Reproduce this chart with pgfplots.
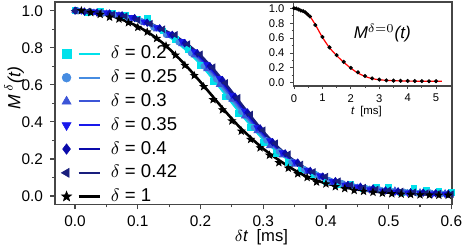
\documentclass[border=0pt]{standalone}
\usepackage{fontspec}
\setmainfont{Liberation Sans}
\usepackage{pgfplots}
\pgfplotsset{compat=1.18}
\usetikzlibrary{plotmarks}

\definecolor{c02}{RGB}{0,225,235}
\definecolor{c025}{RGB}{70,140,225}
\definecolor{c03}{RGB}{60,85,215}
\definecolor{c035}{RGB}{25,25,235}
\definecolor{c04}{RGB}{10,10,170}
\definecolor{c042}{RGB}{25,30,125}
\definecolor{framec}{RGB}{70,70,70}

\pgfdeclareplotmark{fstar}{%
 \pgfpathmoveto{\pgfpointpolar{90}{\pgfplotmarksize}}%
 \pgfpathlineto{\pgfpointpolar{126}{0.42\pgfplotmarksize}}%
 \pgfpathlineto{\pgfpointpolar{162}{\pgfplotmarksize}}%
 \pgfpathlineto{\pgfpointpolar{198}{0.42\pgfplotmarksize}}%
 \pgfpathlineto{\pgfpointpolar{234}{\pgfplotmarksize}}%
 \pgfpathlineto{\pgfpointpolar{270}{0.42\pgfplotmarksize}}%
 \pgfpathlineto{\pgfpointpolar{306}{\pgfplotmarksize}}%
 \pgfpathlineto{\pgfpointpolar{342}{0.42\pgfplotmarksize}}%
 \pgfpathlineto{\pgfpointpolar{18}{\pgfplotmarksize}}%
 \pgfpathlineto{\pgfpointpolar{54}{0.42\pgfplotmarksize}}%
 \pgfpathclose\pgfusepathqfillstroke}

\begin{document}
\begin{tikzpicture}
\begin{axis}[
  name=main,
  scale only axis, width=198.5pt, height=101.25pt,
  xmin=-0.032, xmax=0.601, ymin=-0.046, ymax=1.047,
  xtick={0,0.1,...,0.6}, ytick={0,0.2,...,1.0},
  minor x tick num=1, minor y tick num=1,
  tick pos=left, tick align=outside,
  major tick length=2.5pt, minor tick length=1.5pt,
  axis line style={framec, line width=0.8pt},
  every tick/.style={framec, line width=0.6pt},
  /pgf/number format/assume math mode=true,
  xticklabel style={/pgf/number format/fixed, /pgf/number format/fixed zerofill, /pgf/number format/precision=1, inner sep=0.5pt, yshift=-2.6pt},
  yticklabel style={/pgf/number format/fixed, /pgf/number format/fixed zerofill, /pgf/number format/precision=1},
  ticklabel style={font=\fontsize{7.7}{8}\selectfont},
  xlabel={$\delta$\textit{t}\enspace[ms]},
  xlabel style={at={(rel axis cs:0.52,-0.164)}, anchor=center, inner sep=0pt, font=\fontsize{8.3}{10}\selectfont},
  ylabel={\textit{M}\,$^{\delta}$\textit{(t)}},
  ylabel style={at={(rel axis cs:-0.103,0.575)}, anchor=center, font=\fontsize{8.8}{10}\selectfont},
  legend image code/.code={%
    \draw[#1,mark=none] (8.5pt,0pt) -- (19pt,0pt);
    \draw[#1,only marks] plot coordinates {(2.5pt,0pt)};},
  legend style={draw=none, fill=none, at={(rel axis cs:0.015,0.795)}, anchor=north west,
    font=\fontsize{9.3}{10}\selectfont, row sep=1.9pt, inner sep=0pt,
    nodes={inner sep=1pt},
    /tikz/every odd column/.style={column sep=4pt}},
  legend cell align=left,
]
% ---- data points ----
\addplot[only marks, mark=square*, c02, mark size=1.4pt, forget plot] coordinates {
(0.0,1.0) (0.02,0.99) (0.04,0.995) (0.06,0.985) (0.08,0.975) (0.10,0.955) (0.115,0.96)
(0.14,0.89) (0.16,0.845) (0.18,0.79) (0.20,0.705) (0.22,0.62) (0.24,0.535) (0.26,0.445)
(0.28,0.37) (0.30,0.29) (0.32,0.23) (0.34,0.18) (0.36,0.14) (0.38,0.115) (0.40,0.075)
(0.42,0.06) (0.44,0.065) (0.46,0.04) (0.48,0.05) (0.50,0.045) (0.52,0.02) (0.54,0.04)
(0.56,0.03) (0.58,0.025) (0.60,0.02)};
\addplot[only marks, mark=*, c025, mark size=1.4pt, forget plot] coordinates {
(0.005,1.0) (0.025,0.995) (0.045,0.985) (0.065,0.975) (0.085,0.96) (0.105,0.945) (0.125,0.91)
(0.145,0.87) (0.165,0.83) (0.185,0.77) (0.205,0.7) (0.225,0.63) (0.245,0.535) (0.265,0.455)
(0.285,0.37) (0.305,0.3) (0.325,0.24) (0.345,0.185) (0.365,0.145) (0.385,0.115) (0.405,0.085)
(0.425,0.07) (0.445,0.05) (0.465,0.04) (0.485,0.035) (0.505,0.025) (0.525,0.022) (0.545,0.015)
(0.565,0.02) (0.585,0.012)};
\addplot[only marks, mark=triangle*, c03, mark size=1.7pt, forget plot] coordinates {
(0.0,1.0) (0.03,0.99) (0.05,0.985) (0.07,0.975) (0.09,0.955) (0.11,0.935) (0.13,0.9)
(0.15,0.865) (0.17,0.82) (0.19,0.76) (0.21,0.685) (0.23,0.6) (0.25,0.52) (0.27,0.43)
(0.29,0.35) (0.31,0.27) (0.33,0.22) (0.35,0.17) (0.37,0.13) (0.39,0.1) (0.41,0.07)
(0.43,0.06) (0.45,0.045) (0.47,0.035) (0.49,0.025) (0.51,0.03) (0.53,0.015) (0.55,0.02)
(0.57,0.01) (0.59,0.015)};
\addplot[only marks, mark=triangle*, mark options={rotate=180}, c035, mark size=1.7pt, forget plot] coordinates {
(0.01,1.0) (0.03,0.995) (0.05,0.99) (0.07,0.98) (0.09,0.965) (0.11,0.94) (0.13,0.91)
(0.15,0.875) (0.17,0.835) (0.19,0.78) (0.21,0.71) (0.23,0.635) (0.25,0.545) (0.27,0.46)
(0.29,0.37) (0.31,0.3) (0.33,0.235) (0.35,0.185) (0.37,0.14) (0.39,0.11) (0.41,0.08)
(0.43,0.06) (0.45,0.05) (0.47,0.035) (0.49,0.028) (0.51,0.022) (0.53,0.018) (0.55,0.015)
(0.57,0.012) (0.59,0.01)};
\addplot[only marks, mark=diamond*, c04, mark size=1.8pt, forget plot] coordinates {
(0.0,1.0) (0.015,0.995) (0.035,0.99) (0.055,0.985) (0.075,0.975) (0.095,0.96) (0.115,0.935)
(0.135,0.905) (0.155,0.87) (0.175,0.825) (0.195,0.77) (0.215,0.7) (0.235,0.625) (0.255,0.535)
(0.275,0.45) (0.295,0.365) (0.315,0.29) (0.335,0.23) (0.355,0.18) (0.375,0.135) (0.395,0.105)
(0.415,0.08) (0.435,0.06) (0.455,0.05) (0.475,0.04) (0.495,0.03) (0.515,0.025) (0.535,0.02)
(0.555,0.018) (0.575,0.015) (0.595,0.012)};
\addplot[only marks, mark=triangle*, mark options={rotate=90}, c042, mark size=1.8pt, forget plot] coordinates {
(0.0,1.0) (0.02,0.995) (0.04,0.99) (0.06,0.98) (0.08,0.97) (0.10,0.95) (0.12,0.93)
(0.14,0.9) (0.16,0.87) (0.18,0.82) (0.20,0.765) (0.22,0.695) (0.24,0.61) (0.26,0.53)
(0.28,0.44) (0.30,0.355) (0.32,0.285) (0.34,0.225) (0.36,0.17) (0.38,0.13) (0.40,0.105)
(0.42,0.08) (0.44,0.06) (0.46,0.045) (0.48,0.035) (0.50,0.03) (0.52,0.025) (0.54,0.02)
(0.56,0.015) (0.58,0.013) (0.60,0.01)};
\addplot[only marks, mark=fstar, black, mark size=1.8pt, forget plot] coordinates {
(0.01,1.0) (0.025,0.99) (0.04,0.98) (0.055,0.965) (0.07,0.955) (0.085,0.935) (0.1,0.91)
(0.115,0.885) (0.13,0.85) (0.145,0.81) (0.16,0.76) (0.175,0.705) (0.19,0.65) (0.205,0.59)
(0.22,0.52) (0.235,0.465) (0.25,0.405) (0.265,0.35) (0.28,0.305) (0.295,0.26) (0.31,0.22)
(0.325,0.18) (0.34,0.15) (0.355,0.12) (0.37,0.1) (0.385,0.075) (0.4,0.065) (0.415,0.05)
(0.43,0.04) (0.445,0.03) (0.46,0.025) (0.475,0.02) (0.49,0.015) (0.505,0.012) (0.52,0.01)
(0.535,0.008) (0.55,0.006) (0.565,0.005) (0.58,0.004) (0.595,0.004)};
% ---- fit curves ----
\addplot[c02, line width=1pt, smooth, forget plot] coordinates {
(0.00,1.000) (0.02,0.998) (0.04,0.992) (0.06,0.983) (0.08,0.968) (0.10,0.948) (0.12,0.918)
(0.14,0.88) (0.16,0.835) (0.18,0.778) (0.20,0.71) (0.22,0.63) (0.24,0.545) (0.26,0.46)
(0.28,0.38) (0.30,0.305) (0.32,0.245) (0.34,0.195) (0.36,0.155) (0.38,0.122) (0.40,0.097)
(0.42,0.078) (0.44,0.063) (0.46,0.052) (0.48,0.043) (0.50,0.036) (0.52,0.031) (0.54,0.027)
(0.56,0.024) (0.58,0.021) (0.60,0.019)};
\addplot[c025, line width=1pt, smooth, forget plot] coordinates {
(0.00,1.000) (0.02,0.998) (0.04,0.992) (0.06,0.983) (0.08,0.968) (0.10,0.948) (0.12,0.919)
(0.14,0.883) (0.16,0.842) (0.18,0.788) (0.20,0.723) (0.22,0.645) (0.24,0.56) (0.26,0.475)
(0.28,0.392) (0.30,0.315) (0.32,0.252) (0.34,0.2) (0.36,0.157) (0.38,0.123) (0.40,0.096)
(0.42,0.075) (0.44,0.059) (0.46,0.047) (0.48,0.038) (0.50,0.031) (0.52,0.026) (0.54,0.022)
(0.56,0.019) (0.58,0.016) (0.60,0.014)};
\addplot[c03, line width=1pt, smooth, forget plot] coordinates {
(0.00,1.000) (0.02,0.998) (0.04,0.992) (0.06,0.983) (0.08,0.968) (0.10,0.948) (0.12,0.92)
(0.14,0.886) (0.16,0.847) (0.18,0.797) (0.20,0.735) (0.22,0.66) (0.24,0.575) (0.26,0.49)
(0.28,0.405) (0.30,0.325) (0.32,0.26) (0.34,0.205) (0.36,0.16) (0.38,0.125) (0.40,0.097)
(0.42,0.075) (0.44,0.058) (0.46,0.046) (0.48,0.037) (0.50,0.03) (0.52,0.025) (0.54,0.021)
(0.56,0.018) (0.58,0.015) (0.60,0.013)};
\addplot[c035, line width=1pt, smooth, forget plot] coordinates {
(0.00,1.000) (0.02,0.998) (0.04,0.993) (0.06,0.985) (0.08,0.971) (0.10,0.952) (0.12,0.925)
(0.14,0.891) (0.16,0.853) (0.18,0.805) (0.20,0.745) (0.22,0.672) (0.24,0.588) (0.26,0.502)
(0.28,0.416) (0.30,0.335) (0.32,0.266) (0.34,0.209) (0.36,0.163) (0.38,0.127) (0.40,0.098)
(0.42,0.076) (0.44,0.059) (0.46,0.046) (0.48,0.036) (0.50,0.029) (0.52,0.024) (0.54,0.02)
(0.56,0.016) (0.58,0.014) (0.60,0.012)};
\addplot[c04, line width=1pt, smooth, forget plot] coordinates {
(0.00,1.000) (0.02,0.998) (0.04,0.993) (0.06,0.986) (0.08,0.973) (0.10,0.955) (0.12,0.929)
(0.14,0.896) (0.16,0.859) (0.18,0.812) (0.20,0.753) (0.22,0.681) (0.24,0.598) (0.26,0.512)
(0.28,0.425) (0.30,0.343) (0.32,0.272) (0.34,0.213) (0.36,0.165) (0.38,0.128) (0.40,0.099)
(0.42,0.076) (0.44,0.058) (0.46,0.045) (0.48,0.035) (0.50,0.028) (0.52,0.022) (0.54,0.018)
(0.56,0.015) (0.58,0.013) (0.60,0.011)};
\addplot[c042, line width=1pt, smooth, forget plot] coordinates {
(0.00,1.000) (0.02,0.998) (0.04,0.994) (0.06,0.987) (0.08,0.975) (0.10,0.957) (0.12,0.932)
(0.14,0.9) (0.16,0.864) (0.18,0.818) (0.20,0.76) (0.22,0.689) (0.24,0.607) (0.26,0.52)
(0.28,0.433) (0.30,0.35) (0.32,0.277) (0.34,0.216) (0.36,0.167) (0.38,0.129) (0.40,0.099)
(0.42,0.076) (0.44,0.058) (0.46,0.044) (0.48,0.034) (0.50,0.027) (0.52,0.021) (0.54,0.017)
(0.56,0.014) (0.58,0.012) (0.60,0.010)};
\addplot[black, line width=1.3pt, smooth, forget plot] coordinates {
(0.00,1.000) (0.02,0.995) (0.04,0.985) (0.06,0.97) (0.08,0.945) (0.10,0.915) (0.12,0.875)
(0.14,0.825) (0.16,0.762) (0.18,0.692) (0.20,0.615) (0.22,0.535) (0.24,0.455) (0.26,0.38)
(0.28,0.315) (0.30,0.255) (0.32,0.205) (0.34,0.16) (0.36,0.12) (0.38,0.09) (0.40,0.068)
(0.42,0.052) (0.44,0.04) (0.46,0.03) (0.48,0.023) (0.50,0.018) (0.52,0.014) (0.54,0.011)
(0.56,0.009) (0.58,0.007) (0.60,0.006)};
% ---- legend ----
\addlegendimage{c02, line width=1pt, mark=square*, mark size=2.2pt, mark options={line width=0.3pt}}
\addlegendentry{$\delta$ = 0.2}
\addlegendimage{c025, line width=1pt, mark=*, mark size=2.2pt, mark options={line width=0.3pt}}
\addlegendentry{$\delta$ = 0.25}
\addlegendimage{c03, line width=1pt, mark=triangle*, mark size=2.6pt, mark options={line width=0.3pt}}
\addlegendentry{$\delta$ = 0.3}
\addlegendimage{c035, line width=1pt, mark=triangle*, mark size=2.6pt, mark options={rotate=180,line width=0.3pt}}
\addlegendentry{$\delta$ = 0.35}
\addlegendimage{c04, line width=1pt, mark=diamond*, mark size=2.6pt, mark options={line width=0.3pt}}
\addlegendentry{$\delta$ = 0.4}
\addlegendimage{c042, line width=1pt, mark=triangle*, mark size=2.6pt, mark options={rotate=90,line width=0.3pt}}
\addlegendentry{$\delta$ = 0.42}
\addlegendimage{black, line width=1.3pt, mark=fstar, mark size=2.6pt, mark options={line width=0.3pt}}
\addlegendentry{$\delta$ = 1}
\end{axis}

\begin{axis}[
  at={(main.north east)}, anchor=north east,
  scale only axis, width=79.25pt, height=42pt,
  xmin=-0.018, xmax=5.56, ymin=-0.044, ymax=1.085,
  xtick={0,1,...,5}, ytick={0,0.2,...,1.0},
  minor x tick num=1, minor y tick num=1,
  tick pos=left, tick align=outside,
  major tick length=1.6pt, minor tick length=1pt,
  axis line style={framec, line width=0.6pt},
  every tick/.style={framec, line width=0.4pt},
  axis background/.style={fill=white},
  /pgf/number format/assume math mode=true,
  yticklabel style={/pgf/number format/fixed, /pgf/number format/fixed zerofill, /pgf/number format/precision=1, xshift=0.6pt},
  ticklabel style={font=\fontsize{5.6}{6}\selectfont},
  xticklabel style={yshift=1pt},
  xlabel={\textit{t}\enspace[ms]},
  xlabel style={at={(rel axis cs:0.46,-0.3)}, anchor=center, font=\fontsize{5.7}{6}\selectfont},
]
\addplot[red, line width=0.6pt, smooth] coordinates {
(0,1.0) (0.08,0.995) (0.16,0.985) (0.24,0.972) (0.32,0.958) (0.40,0.942) (0.48,0.92)
(0.56,0.892) (0.75,0.78) (1.0,0.61) (1.25,0.47) (1.5,0.365) (1.75,0.275) (2.0,0.195)
(2.25,0.13) (2.5,0.085) (2.75,0.055) (3.0,0.04) (3.25,0.032) (3.5,0.027) (3.75,0.024)
(4.0,0.022) (4.25,0.021) (4.5,0.02) (4.75,0.02) (5.0,0.02) (5.2,0.02)};
\addplot[only marks, mark=*, black, mark size=0.8pt] coordinates {
(0,1.0) (0.08,0.998) (0.16,0.985) (0.24,0.97) (0.32,0.962) (0.40,0.945) (0.48,0.918)
(0.56,0.89) (0.75,0.775) (1.0,0.615) (1.25,0.475) (1.5,0.37) (1.75,0.28) (2.0,0.2)
(2.25,0.14) (2.5,0.09) (2.75,0.058) (3.0,0.042) (3.25,0.032) (3.5,0.028) (3.75,0.026)
(4.0,0.024) (4.25,0.022) (4.5,0.022) (4.75,0.02) (5.0,0.02)};
\node[font=\fontsize{8.5}{10}\selectfont] at (rel axis cs:0.56,0.63) {\textit{M}$^{\delta=0}$\textit{(t)}};
\end{axis}

\pgfresetboundingbox
\path (main.south west) ++(-27.5pt,-22.25pt) coordinate (bl);
\path (main.north east) ++(5.5pt,1pt) coordinate (tr);
\path[use as bounding box] (bl) rectangle (tr);
\end{tikzpicture}
\end{document}
